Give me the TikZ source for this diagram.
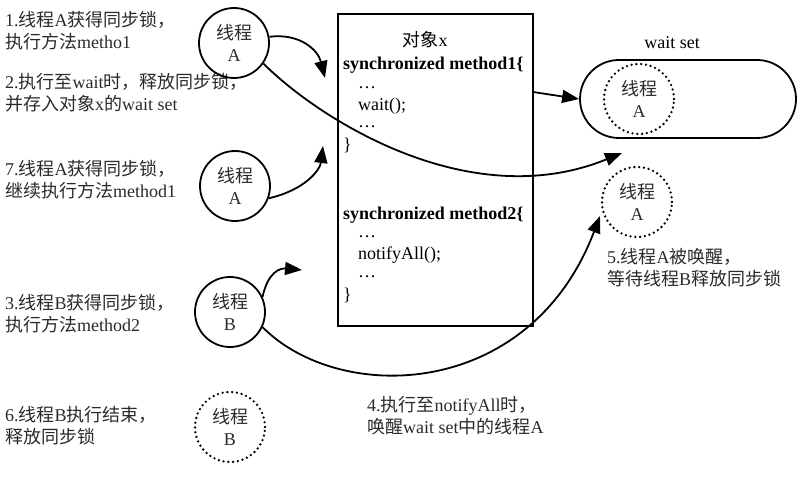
\documentclass[tikz,border=0pt]{standalone}
\usepackage{fontspec}
\setmainfont{Liberation Serif}
\newfontfamily\cjk{Noto Sans CJK SC}
\usepackage{tikz}
\usetikzlibrary{arrows.meta}
\definecolor{txtgray}{HTML}{2A2A2A}
\newcommand{\zh}[1]{{\cjk #1}}
\tikzstyle{thread} = [draw=black, line width=1.8pt, circle, minimum size=70pt,
    inner sep=0pt, align=center, text=txtgray, font=\fontsize{18}{22}\selectfont]
\tikzstyle{threadwait} = [thread, line width=2.6pt, dash pattern=on 0pt off 4.8pt, line cap=round]
\tikzstyle{objbox} = [draw=black, line width=1.8pt, rectangle, minimum width=195pt, minimum height=312pt]
\tikzstyle{waitbox} = [draw=black, line width=1.8pt, rectangle, rounded corners=39pt,
    minimum width=216pt, minimum height=78pt]
\tikzstyle{note} = [anchor=west, align=left, inner sep=0pt, text=txtgray,
    font=\fontsize{18}{22}\selectfont]
\tikzstyle{code} = [anchor=west, inner sep=0pt, text=black, font=\fontsize{18}{20}\selectfont]
\tikzstyle{arr} = [line width=1.8pt, -{Triangle[length=17pt,width=13pt]}]

\begin{document}
\begin{tikzpicture}[x=1pt, y=-1pt]
\useasboundingbox (0,0) rectangle (809,489);

\node [note] (step1) at (5,31) {1.\zh{线程}A\zh{获得同步锁，}\\\zh{执行方法}metho1};
\node [note] (step2) at (5,93) {2.\zh{执行至}wait\zh{时，释放同步锁，}\\\zh{并存入对象}x\zh{的}wait set};
\node [note] (step7) at (5,180) {7.\zh{线程}A\zh{获得同步锁，}\\\zh{继续执行方法}method1};
\node [note] (step3) at (5,314) {3.\zh{线程}B\zh{获得同步锁，}\\\zh{执行方法}method2};
\node [note] (step6) at (5,426) {6.\zh{线程}B\zh{执行结束，}\\\zh{释放同步锁}};
\node [note] (step4) at (367,416) {4.\zh{执行至}notifyAll\zh{时，}\\\zh{唤醒}wait set\zh{中的线程}A};
\node [note] (step5) at (607,268) {5.\zh{线程}A\zh{被唤醒，}\\\zh{等待线程}B\zh{释放同步锁}};

\node [thread] (A1) at (234,43) {\zh{线程}\\A};
\node [thread] (A7) at (235,186) {\zh{线程}\\A};
\node [thread] (B) at (230,312) {\zh{线程}\\B};
\node [threadwait] (Bdone) at (230,427) {\zh{线程}\\B};

\node [objbox] (obj) at (435.5,170) {};
\node [code, anchor=center] (objname) at (425,40) {\zh{对象}x};
\node [code, font=\fontsize{18}{20}\selectfont\bfseries] (sync1) at (343,65) {synchronized method1\{};
\node [code] (dots1) at (358,88) {\dots};
\node [code] (waitcall) at (358,106) {wait();};
\node [code] (dots2) at (358,127) {\dots};
\node [code] (close1) at (343,145) {\}};
\node [code, font=\fontsize{18}{20}\selectfont\bfseries] (sync2) at (343,215) {synchronized method2\{};
\node [code] (dots3) at (358,237) {\dots};
\node [code] (notifycall) at (358,255) {notifyAll();};
\node [code] (dots4) at (358,277) {\dots};
\node [code] (close2) at (343,295) {\}};

\node [code, anchor=center] (wslabel) at (672,43) {wait set};
\node [waitbox] (waitset) at (688,99) {};
\node [threadwait] (Await) at (639,99) {\zh{线程}\\A};
\node [threadwait] (Awoken) at (637,202) {\zh{线程}\\A};

\coordinate (tip1) at (325,78);
\coordinate (tip2) at (622,153);
\coordinate (m1) at (533,92);
\coordinate (tip7) at (323,146);
\coordinate (tip3) at (302,270);
\coordinate (tip4) at (600,216);

\draw [arr] (A1.10) .. controls (300,33) and (318,50) .. (tip1);
\draw [arr] (A1.-35) .. controls (320,120) and (470,215) .. (tip2);
\draw [arr] (m1) -- (waitset.west);
\draw [arr] (A7.-20) .. controls (305,190) and (320,170) .. (tip7);
\draw [arr] (B.25) .. controls (268,272) and (280,268) .. (tip3);
\draw [arr] (B.-25) .. controls (340,405) and (530,400) .. (tip4);
\end{tikzpicture}
\end{document}
